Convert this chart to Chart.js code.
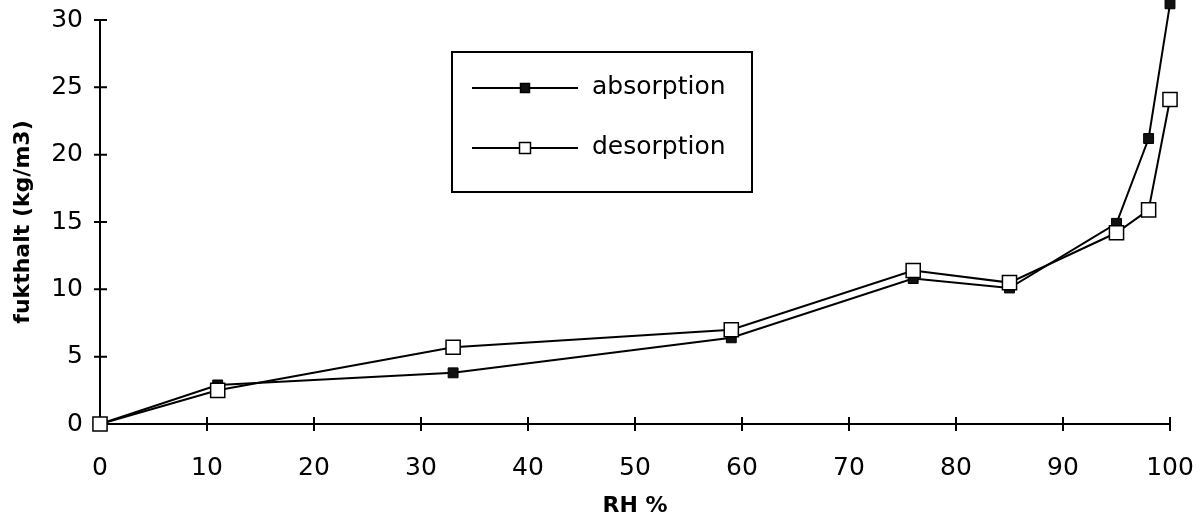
<!DOCTYPE html>
<html>
<head>
<meta charset="utf-8">
<script src="https://cdn.jsdelivr.net/npm/chart.js@4/dist/chart.umd.min.js"></script>
<style>
    html, body { margin: 0; padding: 0; background: #fff; }
    #wrap { width: 1202px; height: 519px; position: relative; }
</style>
</head>
<body>
<div id="wrap"><canvas id="chart"></canvas></div>
<script>
// relativ fuktighet (%) vid mätpunkterna
const rhValues = [0, 11, 33, 59, 76, 85, 95, 98, 100];
// fukthalt i kg/m3
const absorptionValues = [0, 2.9, 3.8, 6.4, 10.8, 10.1, 14.9, 21.2, 31.2];
const desorptionValues = [0, 2.5, 5.7, 7.0, 11.4, 10.5, 14.2, 15.9, 24.1];
const xTicks = [0, 10, 20, 30, 40, 50, 60, 70, 80, 90, 100];
const yTicks = [0, 5, 10, 15, 20, 25, 30];

const fontFamily = "'DejaVu Sans', sans-serif";

const toPoints = (values) => values.map((v, i) => ({ x: rhValues[i], y: v }));

// korta tickstreck som korsar axellinjen
const crossTicks = {
    id: "crossTicks",
    afterDatasetsDraw: (chart) => {
        const { ctx, scales } = chart;
        const { x, y } = scales;
        ctx.save();
        ctx.strokeStyle = "#000";
        ctx.lineWidth = 2;
        ctx.beginPath();
        xTicks.forEach((t) => {
            if (t === 0) return;
            const px = x.getPixelForValue(t);
            ctx.moveTo(px, y.bottom - 7);
            ctx.lineTo(px, y.bottom + 7);
        });
        yTicks.forEach((t) => {
            if (t === 0) return;
            const py = y.getPixelForValue(t);
            ctx.moveTo(x.left - 6, py);
            ctx.lineTo(x.left + 7, py);
        });
        ctx.stroke();
        ctx.restore();
    },
};

// punkten vid 100 % ligger över 30 – låt den ritas ovanför diagramytan
const overflowPoints = {
    id: "overflowPoints",
    beforeDatasetsDraw: (chart) => {
        chart._savedTop = chart.chartArea.top;
        chart.chartArea.top = 0;
    },
    afterDatasetsDraw: (chart) => {
        chart.chartArea.top = chart._savedTop;
    },
};

// legendruta inne i diagrammet
const boxLegend = {
    id: "boxLegend",
    afterDraw: (chart) => {
        const { ctx } = chart;
        const left = 452;
        const top = 52;
        const width = 300;
        const height = 140;
        ctx.save();
        ctx.fillStyle = "#fff";
        ctx.fillRect(left, top, width, height);
        ctx.strokeStyle = "#000";
        ctx.lineWidth = 2;
        ctx.strokeRect(left, top, width, height);

        const rows = [
            { dataset: chart.data.datasets[0], y: top + 36, size: 9 },
            { dataset: chart.data.datasets[1], y: top + 96, size: 11 },
        ];
        rows.forEach((row) => {
            ctx.beginPath();
            ctx.moveTo(left + 20, row.y);
            ctx.lineTo(left + 126, row.y);
            ctx.lineWidth = 2;
            ctx.strokeStyle = "#000";
            ctx.stroke();
            const cx = left + 73;
            ctx.fillStyle = row.dataset.pointBackgroundColor;
            ctx.fillRect(cx - row.size / 2, row.y - row.size / 2, row.size, row.size);
            ctx.lineWidth = 1.5;
            ctx.strokeRect(cx - row.size / 2, row.y - row.size / 2, row.size, row.size);

            ctx.fillStyle = "#000";
            ctx.font = `25px ${fontFamily}`;
            ctx.textBaseline = "middle";
            ctx.textAlign = "left";
            ctx.fillText(row.dataset.label, left + 140, row.y - 1);
        });
        ctx.restore();
    },
};

new Chart(document.getElementById("chart"), {
    type: "line",
    data: {
        datasets: [
            {
                label: "absorption",
                data: toPoints(absorptionValues),
                borderColor: "#000",
                borderWidth: 2,
                pointStyle: "rect",
                pointRadius: 7,
                pointBackgroundColor: "#111",
                pointBorderColor: "#000",
                pointBorderWidth: 1,
                clip: false,
                order: 2,
            },
            {
                label: "desorption",
                data: toPoints(desorptionValues),
                borderColor: "#000",
                borderWidth: 2,
                pointStyle: "rect",
                pointRadius: 10,
                pointBackgroundColor: "#fff",
                pointBorderColor: "#000",
                pointBorderWidth: 1.5,
                clip: false,
                order: 1,
            },
        ],
    },
    options: {
        responsive: true,
        maintainAspectRatio: false,
        animation: false,
        layout: {
            padding: { top: 20, right: 32, left: 0, bottom: 0 },
        },
        plugins: {
            legend: { display: false },
            tooltip: { enabled: false },
        },
        scales: {
            x: {
                type: "linear",
                min: 0,
                max: 100,
                afterFit: (scale) => {
                    scale.height = 95;
                    scale.paddingLeft = 0;
                    scale.paddingRight = 0;
                },
                afterBuildTicks: (scale) => {
                    scale.ticks = xTicks.map((v) => ({ value: v }));
                },
                grid: { display: false },
                border: { display: true, color: "#000", width: 2 },
                ticks: {
                    color: "#000",
                    padding: 21,
                    maxRotation: 0,
                    font: { family: fontFamily, size: 25 },
                },
                title: {
                    display: true,
                    text: "RH %",
                    color: "#000",
                    font: { family: fontFamily, size: 22, weight: "bold" },
                    padding: { top: 0, bottom: 0 },
                },
            },
            y: {
                type: "linear",
                min: 0,
                max: 30,
                afterFit: (scale) => {
                    scale.width = 100;
                    scale.paddingTop = 0;
                    scale.paddingBottom = 0;
                },
                afterBuildTicks: (scale) => {
                    scale.ticks = yTicks.map((v) => ({ value: v }));
                },
                grid: { display: false },
                border: { display: true, color: "#000", width: 2 },
                ticks: {
                    color: "#000",
                    padding: 9,
                    font: { family: fontFamily, size: 25 },
                },
                title: {
                    display: true,
                    text: "fukthalt (kg/m3)",
                    color: "#000",
                    font: { family: fontFamily, size: 22, weight: "bold" },
                    padding: { top: 10, bottom: 0 },
                },
            },
        },
    },
    plugins: [overflowPoints, crossTicks, boxLegend],
});
</script>
</body>
</html>
